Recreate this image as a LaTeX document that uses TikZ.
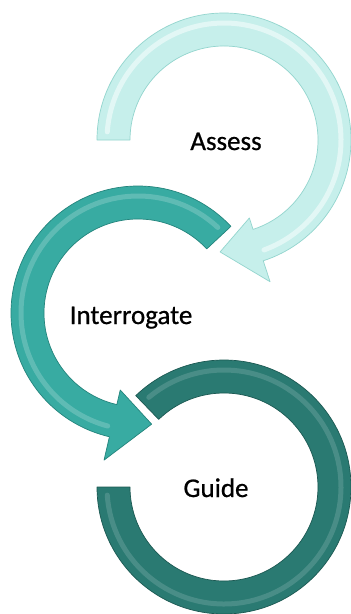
\documentclass[tikz,border=0pt]{standalone}
\usepackage{fontspec}
\setmainfont{Carlito}[FakeBold=0.7]
\definecolor{lightc}{HTML}{C6EFEB}
\definecolor{lightedge}{HTML}{93D5CE}
\definecolor{midc}{HTML}{38ABA2}
\definecolor{midedge}{HTML}{23847C}
\definecolor{darkc}{HTML}{2A7A72}
\definecolor{darkedge}{HTML}{1B5852}
\tikzset{
  lbl/.style={font=\fontsize{27}{30}\selectfont, text=black, inner sep=0pt, anchor=base},
  ring/.style={line width=0.7pt, line join=round},
  shine/.style={line width=5pt, line cap=round, draw=white},
}
\begin{document}
\begin{tikzpicture}[x=1pt,y=1pt]
\fill[white] (0,0) rectangle (351,-614);
\useasboundingbox (0,0) rectangle (351,-614);
% circle 3 (Guide)
\begin{scope}[shift={(224,-487)}]
  \filldraw[ring, fill=darkc, draw=darkedge] (180:127pt) arc[start angle=180,end angle=494,radius=127pt]
    -- (494:94pt) arc[start angle=494,end angle=180,radius=94pt] -- cycle;
  \draw[shine, opacity=0.15] (184:117pt) arc[start angle=184,end angle=490,radius=117pt];
\end{scope}
% circle 2 (Interrogate)
\begin{scope}[shift={(138,-313)}]
  \filldraw[ring, fill=midc, draw=midedge] (43:127pt) arc[start angle=43,end angle=257,radius=127pt]
    -- (257:151pt) -- (277:112pt) -- (257:79pt) -- (257:94pt)
    arc[start angle=257,end angle=43,radius=94pt] -- cycle;
  \draw[shine, opacity=0.2] (47:117pt) arc[start angle=47,end angle=255,radius=117pt];
\end{scope}
% circle 1 (Assess)
\begin{scope}[shift={(224,-140)}]
  \filldraw[ring, fill=lightc, draw=lightedge] (180:127pt) arc[start angle=180,end angle=-72,radius=127pt]
    -- (-72:149pt) -- (-92:112pt) -- (-72:82pt) -- (-72:94pt)
    arc[start angle=-72,end angle=180,radius=94pt] -- cycle;
  \draw[shine, opacity=0.5] (176:117pt) arc[start angle=176,end angle=-70,radius=117pt];
\end{scope}
\node[lbl] (assess) at (226,-150) {Assess};
\node[lbl] (interrogate) at (131,-324) {Interrogate};
\node[lbl] (guide) at (216,-497) {Guide};
\end{tikzpicture}
\end{document}
